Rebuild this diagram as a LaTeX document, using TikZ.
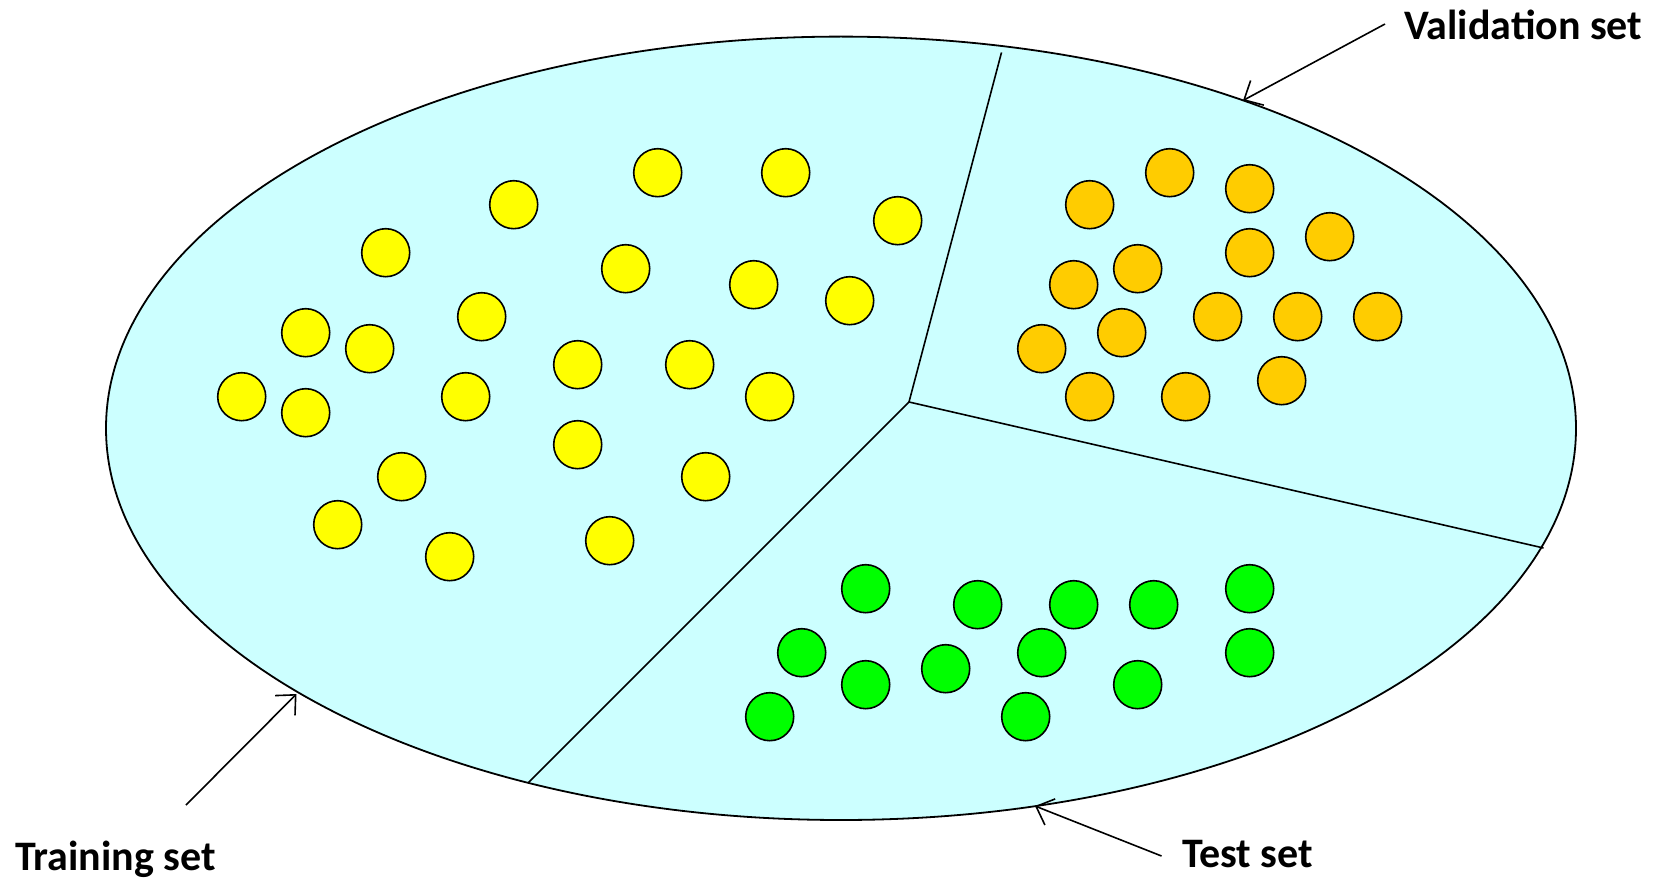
\documentclass[tikz,border=0pt]{standalone}
\usepackage{fontspec}
\setmainfont{Carlito}
\usetikzlibrary{arrows.meta}
\definecolor{poolfill}{HTML}{CCFFFF}
\definecolor{trainc}{HTML}{FFFF00}
\definecolor{valc}{HTML}{FFCC00}
\definecolor{testc}{HTML}{00FF00}
\tikzset{
  sample/.style={circle, draw=black, line width=1.6pt, minimum size=48pt, inner sep=0pt},
  trainpt/.style={sample, fill=trainc},
  valpt/.style={sample, fill=valc},
  testpt/.style={sample, fill=testc},
  divider/.style={line width=1.6pt},
  pointer/.style={line width=1.6pt, -{Straight Barb[length=15pt, width=28pt, line width=1.6pt]}},
  setlabel/.style={anchor=base west, inner sep=0pt, font=\fontsize{42}{50}\selectfont\bfseries}
}
\begin{document}
\begin{tikzpicture}[x=1pt, y=-1pt]
\useasboundingbox (0,0) rectangle (1658,880);

% the whole data pool
\draw[fill=poolfill, line width=1.8pt] (841,428.3) ellipse [x radius=735, y radius=391.7];

% partition lines from the common centre
\coordinate (hub) at (909,402);
\coordinate (cutTop) at (1001.5,52.5);
\coordinate (cutRight) at (1543.5,548);
\coordinate (cutLeft) at (528,783);
\draw[divider] (hub) -- (cutTop);
\draw[divider] (hub) -- (cutRight);
\draw[divider] (hub) -- (cutLeft);

% training samples
\foreach \i/\x/\y in {
  1/657.7/172.7, 2/785.7/172.7, 3/513.7/204.7, 4/897.7/220.7,
  5/385.7/252.7, 6/625.7/268.7, 7/753.7/284.7, 8/849.7/300.7,
  9/305.7/332.7, 10/481.7/316.7, 11/369.7/348.7, 12/577.7/364.7,
  13/689.7/364.7, 14/241.7/396.7, 15/305.7/412.7, 16/465.7/396.7,
  17/769.7/396.7, 18/577.7/444.7, 19/401.7/476.7, 20/705.7/476.7,
  21/337.7/524.7, 22/449.7/556.7, 23/609.7/540.7}
  \node[trainpt] (tr\i) at (\x,\y) {};

% validation samples
\foreach \i/\x/\y in {
  1/1169.7/172.7, 2/1089.7/204.7, 3/1249.7/188.7, 4/1329.7/236.7,
  5/1249.7/252.7, 6/1073.7/284.7, 7/1137.7/268.7, 8/1217.7/316.7,
  9/1297.7/316.7, 10/1377.7/316.7, 11/1041.7/348.7, 12/1121.7/332.7,
  13/1089.7/396.7, 14/1185.7/396.7, 15/1281.7/380.7}
  \node[valpt] (va\i) at (\x,\y) {};

% test samples
\foreach \i/\x/\y in {
  1/865.7/588.7, 2/977.7/604.7, 3/1073.7/604.7, 4/1153.7/604.7,
  5/1249.7/588.7, 6/801.7/652.7, 7/945.7/668.7, 8/1041.7/652.7,
  9/1249.7/652.7, 10/865.7/684.7, 11/1137.7/684.7, 12/769.7/716.7,
  13/1025.7/716.7}
  \node[testpt] (te\i) at (\x,\y) {};

% labels
\node[setlabel] (valLabel) at (1404,40) {Validation set};
\node[setlabel] (trainLabel) at (15,870) {Training set};
\node[setlabel] (testLabel) at (1182,867) {Test set};

% pointers from the labels to the pool
\coordinate (valTail) at (1385,24);
\coordinate (valHead) at (1243,100.5);
\coordinate (trainTail) at (186,805);
\coordinate (trainHead) at (296.5,694);
\coordinate (testTail) at (1161.5,856);
\coordinate (testHead) at (1035,806);
\draw[pointer] (valTail) -- (valHead);
\draw[pointer] (trainTail) -- (trainHead);
\draw[pointer] (testTail) -- (testHead);
\end{tikzpicture}
\end{document}
